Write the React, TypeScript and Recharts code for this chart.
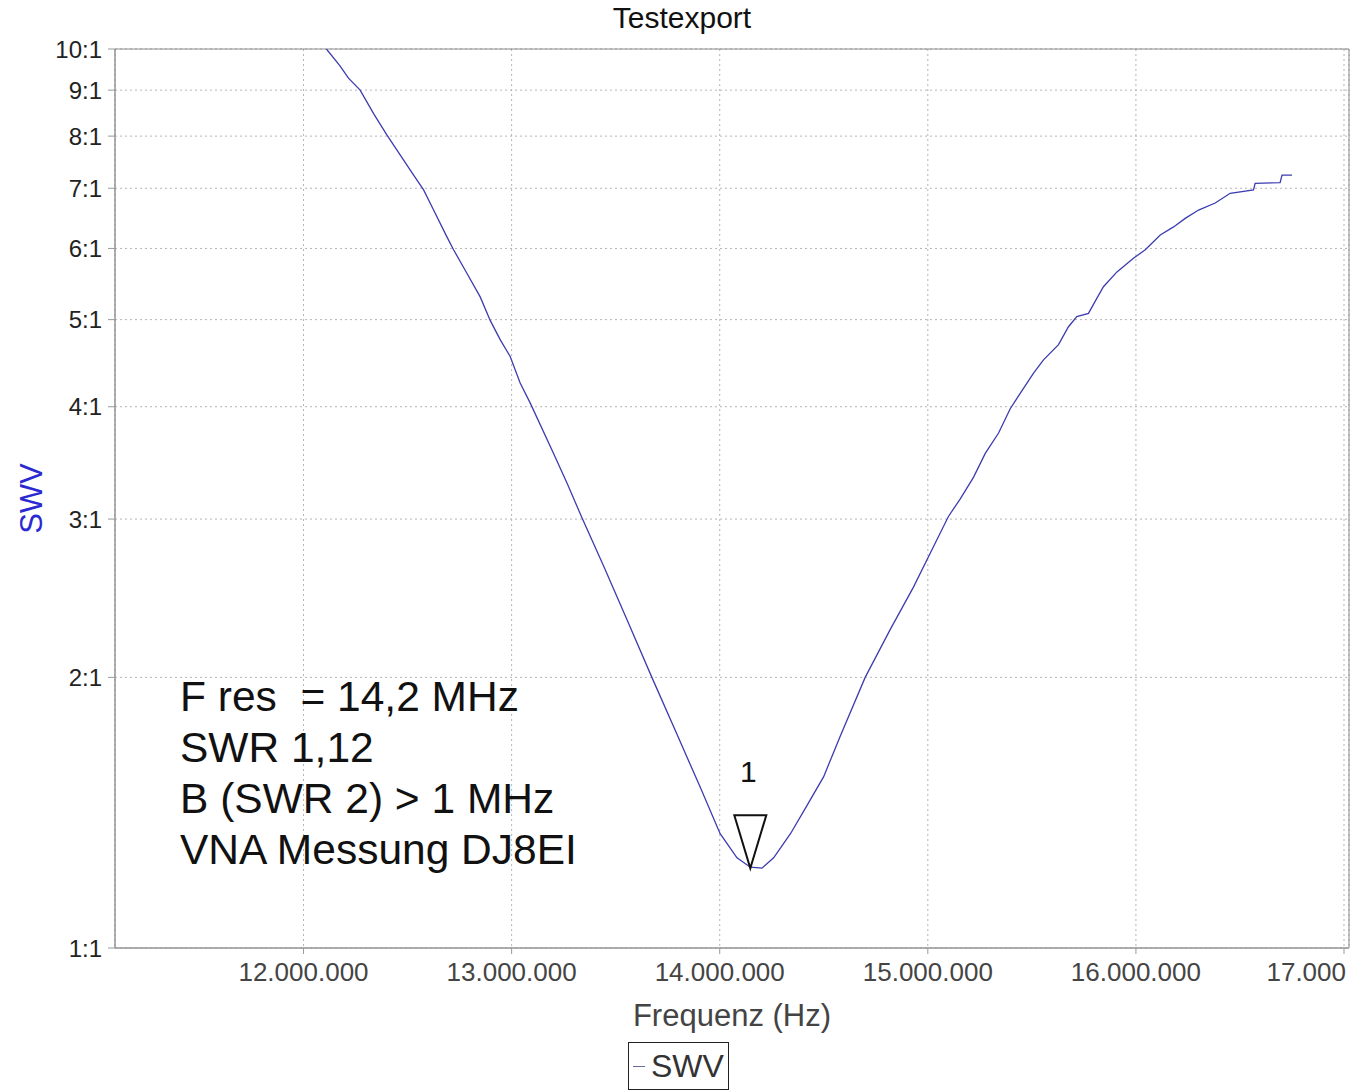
import { LineChart, Line, XAxis, YAxis, CartesianGrid, Legend, ReferenceArea, ReferenceDot } from "recharts"

// Frequenz in MHz
const freqMHz = [
  12.11, 12.176, 12.216, 12.272, 12.336, 12.401, 12.465, 12.529, 12.577, 12.625,
  12.689, 12.721, 12.785, 12.849, 12.897, 12.945, 12.993, 13.041, 13.089, 13.201,
  13.266, 13.338, 13.442, 13.554, 13.674, 13.794, 13.906, 14.002, 14.083, 14.147,
  14.203, 14.259, 14.34, 14.419, 14.499, 14.579, 14.699, 14.819, 14.931, 15.012,
  15.099, 15.156, 15.22, 15.276, 15.34, 15.396, 15.444, 15.508, 15.556, 15.628,
  15.676, 15.716, 15.772, 15.804, 15.844, 15.909, 15.988, 16.045, 16.117, 16.181,
  16.237, 16.301, 16.381, 16.453, 16.565, 16.573, 16.693, 16.702, 16.75,
]

const swv = [
  10.0, 9.57, 9.28, 9.0, 8.48, 8.02, 7.62, 7.24, 6.97, 6.62,
  6.18, 5.98, 5.63, 5.3, 4.99, 4.75, 4.55, 4.25, 4.04, 3.55,
  3.29, 3.01, 2.66, 2.32, 2.0, 1.73, 1.51, 1.34, 1.26, 1.23,
  1.227, 1.26, 1.34, 1.44, 1.55, 1.72, 2.0, 2.26, 2.52, 2.75,
  3.02, 3.16, 3.34, 3.55, 3.74, 3.98, 4.14, 4.36, 4.51, 4.69,
  4.91, 5.04, 5.08, 5.24, 5.44, 5.65, 5.85, 5.98, 6.21, 6.34,
  6.48, 6.62, 6.74, 6.91, 6.97, 7.09, 7.1, 7.24, 7.24,
]

const xTicks = [12000000, 13000000, 14000000, 15000000, 16000000, 17000000]
const xTickLabels = ["12.000.000", "13.000.000", "14.000.000", "15.000.000", "16.000.000", "17.000"]
const yTicks = [1, 2, 3, 4, 5, 6, 7, 8, 9, 10]
const xDomain = [11094000, 17024000]

const notes = ["F res  = 14,2 MHz", "SWR 1,12", "B (SWR 2) > 1 MHz", "VNA Messung DJ8EI"]

const marker = { f: 14147000, swv: 1.23 }

const data = freqMHz.map((f, i) => ({ f: Math.round(f * 1e6), swv: swv[i] }))

const font = "'Liberation Sans', Arial, sans-serif"

// letzter Tick ist im Original am Rand abgeschnitten
const XTick = (props: any) => {
  const { x, y, payload, index } = props
  const last = index === xTicks.length - 1
  return (
    <text
      x={last ? x + 14 : x}
      y={y}
      dy="0.71em"
      textAnchor={last ? "end" : "middle"}
      fontSize={26}
      fontFamily={font}
      fill="#444"
    >
      {xTickLabels[xTicks.indexOf(payload.value)]}
    </text>
  )
}

const MarkerShape = (props: any) => {
  const { cx, cy } = props
  return (
    <g>
      <polygon
        points={`${cx - 16},${cy - 52} ${cx + 16},${cy - 52} ${cx},${cy + 1}`}
        fill="none"
        stroke="#111"
        strokeWidth={2}
      />
      <text x={cx - 2} y={cy - 85} textAnchor="middle" fontSize={30} fontFamily={font} fill="#111">
        1
      </text>
    </g>
  )
}

const LegendBox = () => (
  <div
    style={{
      width: 99,
      height: 46,
      border: "1px solid #222",
      display: "flex",
      alignItems: "center",
      fontFamily: font,
      fontSize: 32,
      color: "#333",
      background: "#fff",
    }}
  >
    <span style={{ width: 12, height: 1, background: "#6a6aa0", margin: "0 6px 0 4px" }} />
    <span>SWV</span>
  </div>
)

export default function App() {
  return (
    <div style={{ position: "absolute", left: 0, top: 0, width: 1364, height: 1091, background: "#fff" }}>
      <div
        style={{
          position: "absolute",
          left: 0,
          top: 1,
          width: 1364,
          textAlign: "center",
          fontFamily: font,
          fontSize: 30,
          color: "#111",
        }}
      >
        Testexport
      </div>
      <LineChart width={1364} height={1091} data={data} margin={{ top: 49, right: 15, bottom: 43, left: 0 }}>
        <CartesianGrid stroke="#b4b4b4" strokeDasharray="2 3" />
        <ReferenceArea
          x1={xDomain[0]}
          x2={xDomain[1]}
          y1={1}
          y2={10}
          fill="none"
          stroke="#8a8a8a"
          strokeWidth={1}
          ifOverflow="visible"
        />
        <XAxis
          dataKey="f"
          type="number"
          domain={xDomain}
          ticks={xTicks}
          allowDataOverflow
          height={100}
          tick={XTick}
          tickSize={6}
          tickMargin={9}
          stroke="#999"
          label={{
            content: (p: any) => (
              <text
                x={p.viewBox.x + p.viewBox.width / 2}
                y={p.viewBox.y + 78}
                textAnchor="middle"
                fontSize={31}
                fontFamily={font}
                fill="#444"
              >
                Frequenz (Hz)
              </text>
            ),
          }}
        />
        <YAxis
          dataKey="swv"
          scale="log"
          domain={[1, 10]}
          ticks={yTicks}
          allowDataOverflow
          width={115}
          tickFormatter={(v: number) => `${v}:1`}
          tick={{ fontSize: 24, fontFamily: font, fill: "#222" }}
          tickSize={7}
          tickMargin={6}
          stroke="#999"
          label={{
            content: (p: any) => {
              const x = 42
              const y = p.viewBox.y + p.viewBox.height / 2
              return (
                <text
                  x={x}
                  y={y}
                  transform={`rotate(-90 ${x} ${y})`}
                  textAnchor="middle"
                  fontSize={31}
                  fontFamily={font}
                  fill="#2a2ad0"
                >
                  SWV
                </text>
              )
            },
          }}
        />
        <Line
          type="linear"
          dataKey="swv"
          name="SWV"
          stroke="#3c3cb0"
          strokeWidth={1.3}
          dot={false}
          isAnimationActive={false}
        />
        <ReferenceDot x={marker.f} y={marker.swv} shape={MarkerShape} ifOverflow="visible" />
        <Legend
          layout="horizontal"
          verticalAlign="middle"
          align="center"
          content={LegendBox}
          wrapperStyle={{ left: 628, top: 1042, width: 101, height: 48 }}
        />
      </LineChart>
      <div
        style={{
          position: "absolute",
          left: 180,
          top: 671,
          fontFamily: font,
          fontSize: 42.5,
          lineHeight: "51px",
          color: "#111",
          whiteSpace: "pre",
        }}
      >
        {notes.map((n) => (
          <div key={n}>{n}</div>
        ))}
      </div>
    </div>
  )
}
